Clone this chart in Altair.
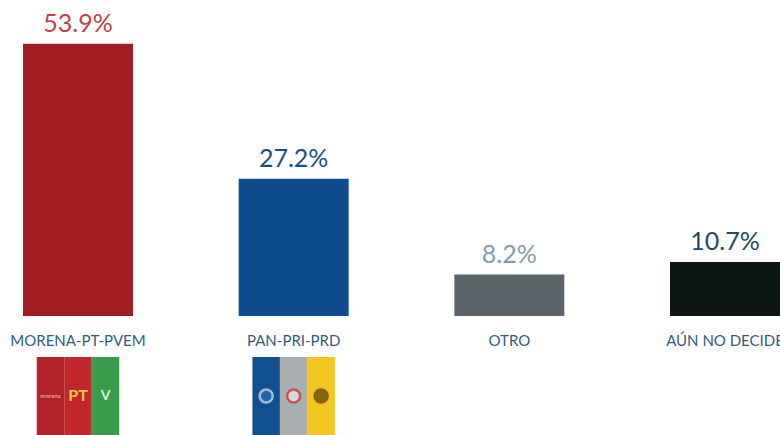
import altair as alt
import pandas as pd

categories = ["MORENA-PT-PVEM", "PAN-PRI-PRD", "OTRO", "AÚN NO DECIDE"]
values = [53.9, 27.2, 8.2, 10.7]
value_labels = ["53.9%", "27.2%", "8.2%", "10.7%"]
bar_colors = ["#a01d22", "#0f4c8e", "#5b6569", "#0e1615"]
label_colors = ["#c2404b", "#1f4f80", "#7f9db2", "#1c4a6b"]

logo_category = ["MORENA-PT-PVEM"] * 3 + ["PAN-PRI-PRD"] * 3
logo_part = ["MORENA", "PT", "PVEM", "PAN", "PRI", "PRD"]
logo_slot = [0, 1, 2, 0, 1, 2]
logo_colors = ["#b3232a", "#c0262b", "#3b9b4a", "#114f8f", "#a9aeb1", "#f2c520"]

icon_category = ["MORENA-PT-PVEM", "MORENA-PT-PVEM", "MORENA-PT-PVEM"]
icon_slot = [0, 1, 2]
icon_text = ["morena", "PT", "V"]
icon_color = ["#e7a0a0", "#f6c842", "#d9efd9"]
icon_size = [6, 16, 14]

sym_category = ["PAN-PRI-PRD", "PAN-PRI-PRD", "PAN-PRI-PRD"]
sym_slot = [0, 1, 2]
sym_fill = ["#2a6fb5", "#e9e9e9", "#5a3b0c"]
sym_stroke = ["#dfeaf6", "#c9342f", "#5a3b0c"]

df = pd.DataFrame({
    "cat": categories,
    "value": values,
    "label": value_labels,
    "bar_color": bar_colors,
    "label_color": label_colors,
})
logos = pd.DataFrame({
    "cat": logo_category,
    "part": logo_part,
    "slot": logo_slot,
    "color": logo_colors,
})
icons = pd.DataFrame({
    "cat": icon_category,
    "slot": icon_slot,
    "text": icon_text,
    "color": icon_color,
    "size": icon_size,
})
syms = pd.DataFrame({
    "cat": sym_category,
    "slot": sym_slot,
    "fill": sym_fill,
    "stroke": sym_stroke,
})

xscale = alt.Scale(domain=categories, paddingInner=0.49, paddingOuter=0)
xaxis = alt.Axis(
    title=None, ticks=False, domain=False, labelPadding=17, labelFontSize=15,
    labelColor="#2f5d7e", labelFont="Lato", labelAngle=0,
)
yscale = alt.Scale(domain=[0, 60])
X = alt.X("cat:N", scale=xscale, axis=xaxis)
STRIPE = 27.5

base = alt.Chart(df)

bars = base.mark_bar().encode(
    x=X,
    y=alt.Y("value:Q", scale=yscale, axis=None),
    color=alt.Color("bar_color:N", scale=None),
)

labels = base.mark_text(dy=-12, baseline="alphabetic", fontSize=25, font="Lato").encode(
    x=X,
    y=alt.Y("value:Q", scale=yscale, axis=None),
    text="label:N",
    color=alt.Color("label_color:N", scale=None),
)

layers = [bars, labels]

for k in range(3):
    off = (k - 1) * STRIPE
    layers.append(
        alt.Chart(logos).transform_filter(alt.datum.slot == k).mark_bar(
            width=STRIPE, xOffset=off
        ).encode(
            x=X,
            y=alt.value(344),
            y2=alt.value(430),
            color=alt.Color("color:N", scale=None),
        )
    )
    layers.append(
        alt.Chart(icons).transform_filter(alt.datum.slot == k).mark_text(
            font="Lato", fontWeight="bold", dx=off
        ).encode(
            x=X,
            y=alt.value(383),
            text="text:N",
            color=alt.Color("color:N", scale=None),
            size=alt.Size("size:Q", scale=None),
        )
    )
    layers.append(
        alt.Chart(syms).transform_filter(alt.datum.slot == k).mark_point(
            filled=True, size=170, strokeWidth=2.5, xOffset=off
        ).encode(
            x=X,
            y=alt.value(383),
            fill=alt.Fill("fill:N", scale=None),
            stroke=alt.Stroke("stroke:N", scale=None),
        )
    )

chart = alt.layer(*layers).properties(
    width=757,
    height=303,
    autosize="none",
    padding={"left": 23, "top": 13, "right": 0, "bottom": 119},
    background="white",
).configure_view(stroke=None)

chart.save("out.html", embed_options={"renderer": "svg", "actions": False})
